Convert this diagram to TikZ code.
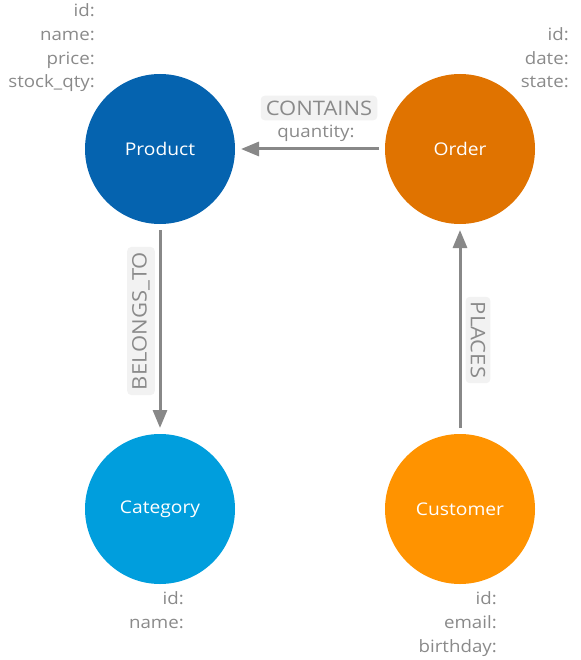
\documentclass[tikz,border=0pt]{standalone}
\usepackage{fontspec}
\setmainfont{Open Sans}[FakeStretch=1.1]
\usetikzlibrary{arrows.meta}
\definecolor{productblue}{HTML}{0563AF}
\definecolor{orderorange}{HTML}{E07300}
\definecolor{categoryblue}{HTML}{009EDD}
\definecolor{customerorange}{HTML}{FF9300}
\definecolor{propgray}{HTML}{8A8A8A}
\definecolor{linegray}{HTML}{888888}
\definecolor{boxgray}{HTML}{F2F2F2}

\begin{document}
\begin{tikzpicture}[x=1pt, y=-1pt,
		entity/.style={circle, minimum size=150pt, inner sep=0pt, outer sep=6pt, text=white, font=\fontsize{17.5}{20}\selectfont},
		props/.style={align=right, text=propgray, inner sep=0pt, anchor=base east, font=\fontsize{17}{23.7}\selectfont},
		rel/.style={draw=linegray, line width=3pt, -{Triangle[length=18pt, width=14pt]}},
		reltype/.style={fill=boxgray, rounded corners=4pt, text=propgray, inner xsep=5pt, inner ysep=5pt, font=\fontsize{20}{24}\selectfont}]
			\useasboundingbox (0,0) rectangle (580,660);
			% entities
			\node[entity, fill=productblue] (product) at (160,149) {Product};
			\node[entity, fill=orderorange] (order) at (460,149) {Order};
			\node[entity, fill=categoryblue] (category) at (160,509) {Category};
			\node[entity, fill=customerorange] (customer) at (460,509) {Customer};
			% properties
			\node[props] (productprops) at (95,88) {id:\\ name:\\ price:\\ stock\_qty:};
			\node[props] (orderprops) at (569,88) {id:\\ date:\\ state:};
			\node[props] (categoryprops) at (184,628) {id:\\ name:};
			\node[props] (customerprops) at (497,652) {id:\\ email:\\ birthday:};
			% relationships
			\draw[rel] (order) -- (product);
			\draw[rel] (product) -- (category);
			\draw[rel] (customer) -- (order);
			\node[reltype] (contains) at (319,108) {CONTAINS};
			\node[props, anchor=base] (quantity) at (316,138) {quantity:};
			\node[reltype, rotate=90] (belongsto) at (141,321) {BELONGS\_TO};
			\node[reltype, rotate=-90] (places) at (478,340) {PLACES};
		\end{tikzpicture}
\end{document}
